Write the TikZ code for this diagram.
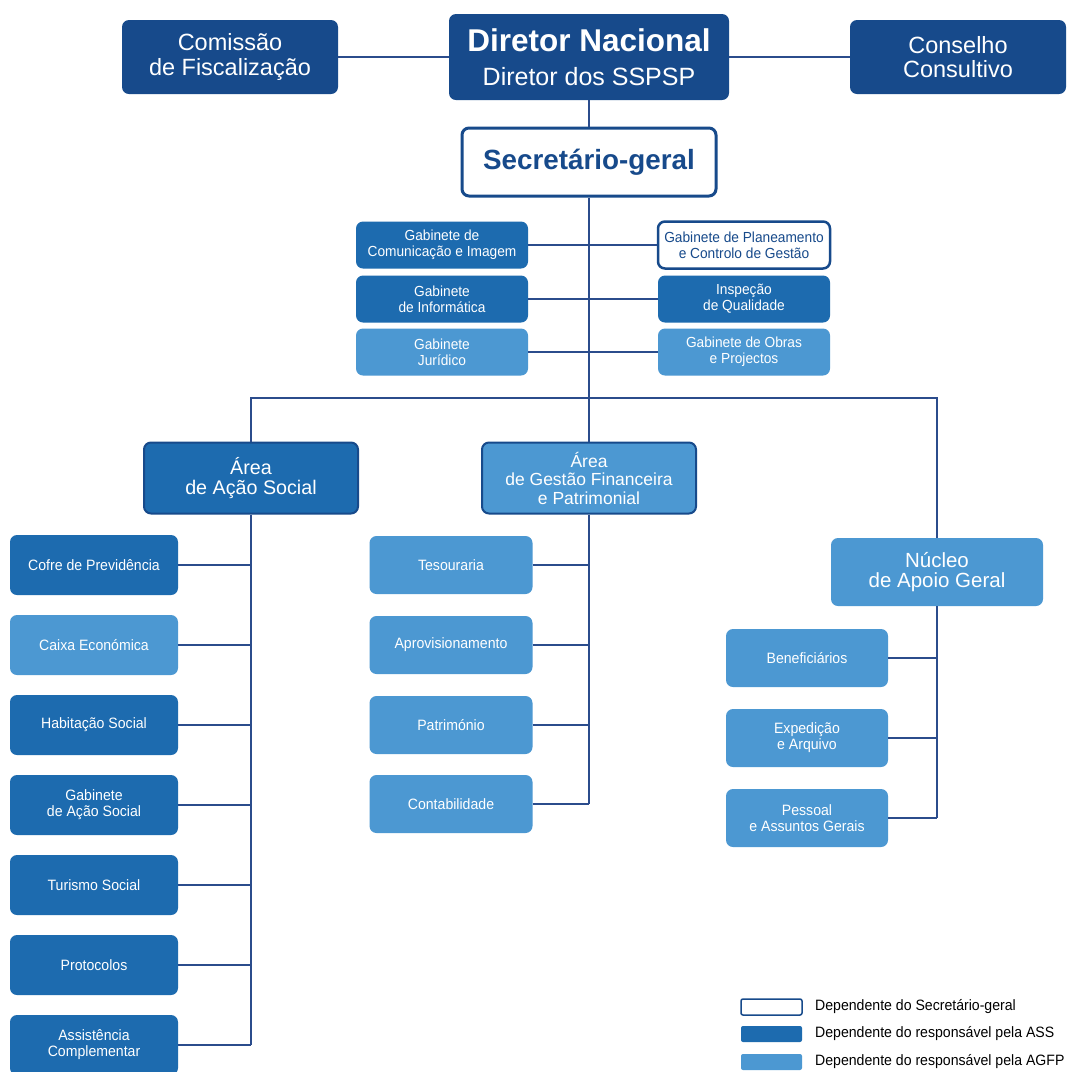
\documentclass[tikz,border=0pt]{standalone}
\usepackage{fontspec}
\setmainfont{Liberation Sans}
\newfontfamily\narrowfont{Liberation Sans}[FakeStretch=0.94]
\usetikzlibrary{calc}

\definecolor{navy}{HTML}{174A8B}
\definecolor{ass}{HTML}{1D6BAF}
\definecolor{agfp}{HTML}{4C98D2}
\definecolor{linha}{HTML}{2B4C8C}

\tikzset{
  caixa/.style={rectangle,rounded corners=7pt,text=white,align=center,inner sep=0pt},
  topo/.style={caixa,fill=navy,minimum width=216pt,minimum height=74pt,font=\fontsize{23.5}{24.5}\selectfont},
  sgeral/.style={caixa,fill=white,draw=navy,line width=3pt,text=navy},
  ramo/.style={caixa,minimum width=172pt,minimum height=47pt,font=\narrowfont\fontsize{14.6}{16}\selectfont},
  sub/.style={caixa,minimum width=168pt,minimum height=60pt,font=\narrowfont\fontsize{15}{16}\selectfont},
  area/.style={caixa,minimum width=214pt,minimum height=71pt,font=\fontsize{19.7}{20.5}\selectfont},
  liga/.style={draw=linha,line width=2.4pt},
  leg/.style={rectangle,rounded corners=2pt,minimum width=61pt,minimum height=16pt,inner sep=0pt},
  legtxt/.style={anchor=west,inner sep=0pt,font=\narrowfont\fontsize{15}{15}\selectfont}
}

\begin{document}
\begin{tikzpicture}[x=1pt,y=-1pt]
\useasboundingbox[fill=white](0,0)rectangle(1068,1072);

%topo
\node[topo](comissao)at(230,57){Comissão\\de Fiscalização};
\node[topo,minimum width=280pt,minimum height=86pt,font=\fontsize{25}{34}\selectfont](diretor)at(589,57){{\bfseries\fontsize{31.5}{31.5}\selectfont Diretor Nacional}\\Diretor dos SSPSP};
\node[topo](conselho)at(958,57){Conselho\\Consultivo};
\node[sgeral,minimum width=254pt,minimum height=68pt,font=\bfseries\fontsize{27.8}{28}\selectfont](secgeral)at(589,162){Secretário-geral};

%gabinetes
\node[ramo,fill=ass](gcom)at(442,245){Gabinete de\\Comunicação e Imagem};
\node[ramo,fill=ass](ginf)at(442,299){Gabinete\\de Informática};
\node[ramo,fill=agfp](gjur)at(442,352){Gabinete\\Jurídico};
\node[ramo,fill=white,draw=navy,line width=2.5pt,text=navy](gplan)at(744,245){Gabinete de Planeamento\\e Controlo de Gestão};
\node[ramo,fill=ass](insp)at(744,299){Inspeção\\de Qualidade};
\node[ramo,fill=agfp](gobr)at(744,352){Gabinete de Obras\\e Projectos};

%areas
\node[area,fill=ass,draw=navy,line width=2pt](aas)at(251,478){Área\\de Ação Social};
\node[area,fill=agfp,draw=navy,line width=2pt,font=\fontsize{17.5}{18.5}\selectfont](agfp)at(589,478){Área\\de Gestão Financeira\\e Patrimonial};
\node[area,fill=agfp,minimum width=212pt,minimum height=68pt,font=\fontsize{20.5}{20}\selectfont](nag)at(937,572){Núcleo\\de Apoio Geral};

%area de acao social
\node[sub,fill=ass](cofre)at(94,565){Cofre de Previdência};
\node[sub,fill=agfp](caixa)at(94,645){Caixa Económica};
\node[sub,fill=ass](habit)at(94,725){Habitação Social};
\node[sub,fill=ass](gas)at(94,805){Gabinete\\de Ação Social};
\node[sub,fill=ass](turis)at(94,885){Turismo Social};
\node[sub,fill=ass](proto)at(94,965){Protocolos};
\node[sub,fill=ass](assist)at(94,1045){Assistência\\Complementar};

%area de gestao financeira
\node[sub,fill=agfp,minimum width=163pt,minimum height=58pt](tesou)at(451,565){Tesouraria};
\node[sub,fill=agfp,minimum width=163pt,minimum height=58pt](aprov)at(451,645){Aprovisionamento};
\node[sub,fill=agfp,minimum width=163pt,minimum height=58pt](patri)at(451,725){Património};
\node[sub,fill=agfp,minimum width=163pt,minimum height=58pt](conta)at(451,804){Contabilidade};

%nucleo de apoio geral
\node[sub,fill=agfp,minimum width=162pt,minimum height=58pt](benef)at(807,658){Beneficiários};
\node[sub,fill=agfp,minimum width=162pt,minimum height=58pt](exped)at(807,738){Expedição\\e Arquivo};
\node[sub,fill=agfp,minimum width=162pt,minimum height=58pt](pess)at(807,818){Pessoal\\e Assuntos Gerais};

%ligacoes
\coordinate(barra)at(589,398);
\path[liga](comissao)--(diretor);
\path[liga](diretor)--(conselho);
\path[liga](diretor)--(secgeral);
\path[liga](secgeral.south)--(barra);
\foreach \g in {gcom,ginf,gjur,gplan,insp,gobr}
  \path[liga](\g)--(\g -| barra);
\path[liga](aas.north)|-(barra);
\path[liga](agfp.north)--(barra);
\path[liga](nag.north)|-(barra);
\path[liga](aas.south)--(aas.south |- assist);
\foreach \s in {cofre,caixa,habit,gas,turis,proto,assist}
  \path[liga](\s.east)--(\s -| aas.south);
\path[liga](agfp.south)--(agfp.south |- conta);
\foreach \s in {tesou,aprov,patri,conta}
  \path[liga](\s.east)--(\s -| agfp.south);
\path[liga](nag.south)--(nag.south |- pess);
\foreach \s in {benef,exped,pess}
  \path[liga](\s.east)--(\s -| nag.south);

%legenda
\node[leg,fill=white,draw=navy,line width=1.5pt](lsg)at(771.5,1007){};
\node[leg,fill=ass](lass)at(771.5,1034){};
\node[leg,fill=agfp](lagfp)at(771.5,1062){};
\node[legtxt](tsg)at(815,1007){Dependente do Secretário-geral};
\node[legtxt](tass)at(815,1034){Dependente do responsável pela ASS};
\node[legtxt](tagfp)at(815,1062){Dependente do responsável pela AGFP};
\end{tikzpicture}
\end{document}
